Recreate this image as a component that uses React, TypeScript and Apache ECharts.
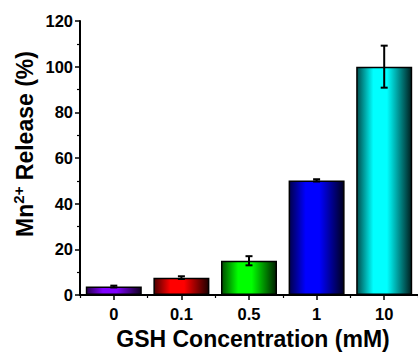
import React, { useEffect, useRef } from "react";
import * as echarts from "echarts";

const categories = ["0", "0.1", "0.5", "1", "10"];
const releaseValues = [3.7, 7.6, 15.0, 50.2, 100.0];
const errorValues = [0.4, 0.6, 2.0, 0.5, 9.2];
const barColors = ["#8000ff", "#ff0000", "#00ff00", "#0000ff", "#00ffff"];
const yTicks = [0, 20, 40, 60, 80, 100, 120];

function shade(hex: string, f: number): string {
  const n = parseInt(hex.slice(1), 16);
  const r = Math.round(((n >> 16) & 255) * f);
  const g = Math.round(((n >> 8) & 255) * f);
  const b = Math.round((n & 255) * f);
  return `rgb(${r},${g},${b})`;
}

export default function App() {
  const ref = useRef<HTMLDivElement>(null);
  useEffect(() => {
    document.body.style.margin = "0";
    const chart = echarts.init(ref.current!, null, { renderer: "svg" });
    const font = "Arial, 'Liberation Sans', sans-serif";
    chart.setOption({
      animation: false,
      backgroundColor: "#ffffff",
      grid: { left: 80, top: 21, width: 340, height: 274, containLabel: false },
      xAxis: [
        {
          type: "category",
          data: categories,
          axisLine: { show: true, lineStyle: { color: "#000", width: 2 } },
          axisTick: { show: true, alignWithLabel: true, length: 5, lineStyle: { color: "#000", width: 1.5 } },
          axisLabel: { color: "#000", fontSize: 16.5, fontWeight: "bold", fontFamily: font, margin: 10 },
          splitLine: { show: false },
        },
        {
          type: "category",
          data: categories,
          position: "bottom",
          axisLine: { show: false },
          axisTick: { show: true, length: 3, lineStyle: { color: "#000", width: 1.2 } },
          axisLabel: { show: false },
          splitLine: { show: false },
        },
      ],
      yAxis: {
        type: "value",
        min: 0,
        max: 120,
        interval: 20,
        axisLine: { show: true, lineStyle: { color: "#000", width: 2 } },
        axisTick: { show: true, length: 5, lineStyle: { color: "#000", width: 1.5 } },
        minorTick: { show: true, splitNumber: 2, length: 3, lineStyle: { color: "#000", width: 1.2 } },
        axisLabel: {
          color: "#000",
          fontSize: 16.5,
          fontWeight: "bold",
          fontFamily: font,
          margin: 7,
          formatter: (v: number) => (yTicks.includes(v) ? String(v) : ""),
        },
        splitLine: { show: false },
      },
      graphic: [
        {
          type: "text",
          x: 25,
          y: 144,
          rotation: Math.PI / 2,
          style: {
            text: "{b|Mn}{s|2+}{b| Release (%)}",
            align: "center",
            verticalAlign: "middle",
            rich: {
              b: { fontSize: 23, fontWeight: "bold", fontFamily: font, fill: "#000", lineHeight: 28 },
              s: { fontSize: 15, fontWeight: "bold", fontFamily: font, fill: "#000", verticalAlign: "top", lineHeight: 15, padding: [0, 0, 13, 0] },
            },
          },
        },
        {
          type: "text",
          x: 253,
          y: 339,
          style: {
            text: "GSH Concentration (mM)",
            align: "center",
            verticalAlign: "middle",
            fontSize: 23,
            fontWeight: "bold",
            fontFamily: font,
            fill: "#000",
          },
        },
      ],
      series: [
        {
          type: "bar",
          xAxisIndex: 0,
          barWidth: 56,
          data: releaseValues.map((v, i) => ({
            value: v,
            itemStyle: {
              borderColor: "#000",
              borderWidth: 1.5,
              color: new echarts.graphic.LinearGradient(0, 0, 1, 0, [
                { offset: 0, color: shade(barColors[i], 0.3) },
                { offset: 0.3, color: barColors[i] },
                { offset: 0.55, color: barColors[i] },
                { offset: 1, color: shade(barColors[i], 0.12) },
              ]),
            },
          })),
          z: 2,
        },
        {
          type: "custom",
          xAxisIndex: 0,
          z: 3,
          data: releaseValues.map((v, i) => [i, v - errorValues[i], v + errorValues[i]]),
          renderItem: (params: any, api: any) => {
            const x = api.value(0);
            const lo = api.coord([x, api.value(1)]);
            const hi = api.coord([x, api.value(2)]);
            const hw = 3.5;
            const st = { stroke: "#000", lineWidth: 2 };
            return {
              type: "group",
              children: [
                { type: "line", shape: { x1: lo[0], y1: lo[1], x2: hi[0], y2: hi[1] }, style: st },
                { type: "line", shape: { x1: lo[0] - hw, y1: lo[1], x2: lo[0] + hw, y2: lo[1] }, style: st },
                { type: "line", shape: { x1: hi[0] - hw, y1: hi[1], x2: hi[0] + hw, y2: hi[1] }, style: st },
              ],
            };
          },
        },
      ],
    });
    return () => chart.dispose();
  }, []);
  return <div ref={ref} style={{ width: 418, height: 352 }} />;
}
